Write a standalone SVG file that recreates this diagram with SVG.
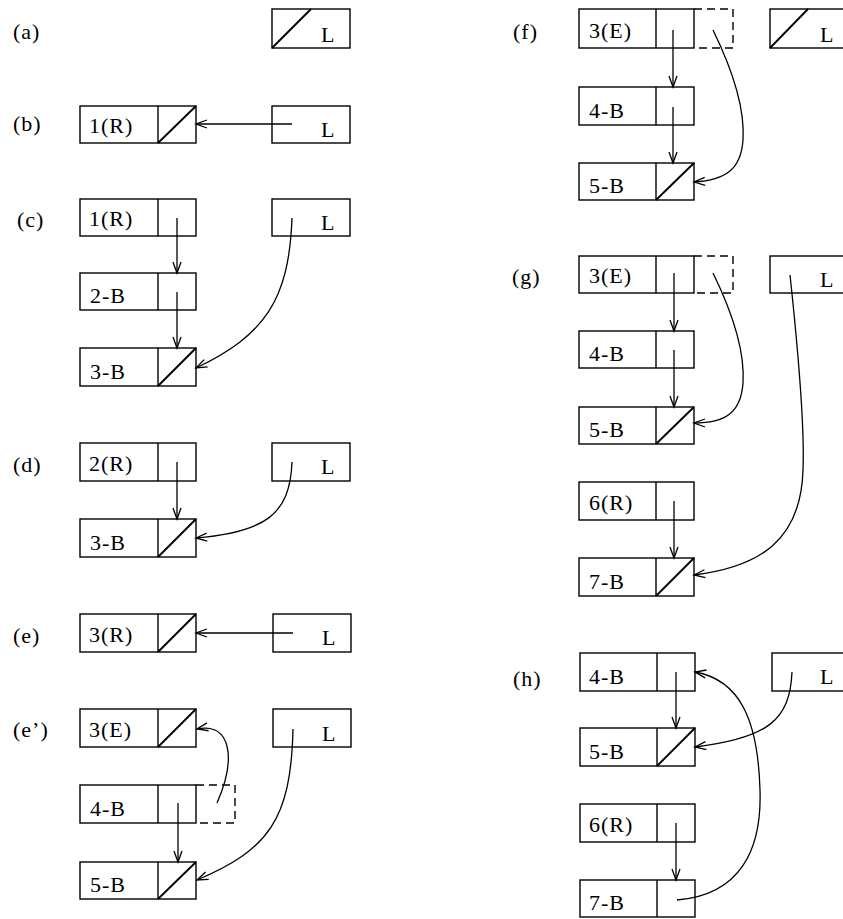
<svg xmlns="http://www.w3.org/2000/svg" width="843" height="919" viewBox="0 0 843 919">
<defs>
<marker id="ah" markerUnits="userSpaceOnUse" markerWidth="12" markerHeight="10" refX="11" refY="4.5" orient="auto" overflow="visible">
<path d="M0,0.5 L11,4.5 L0,8.5" fill="none" stroke="#000" stroke-width="1.3"/>
</marker>
</defs>
<style>
.b{fill:#fff;stroke:#000;stroke-width:1.4}
.d{stroke:#000;stroke-width:1.4}
.g{stroke:#000;stroke-width:1.9}
.ds{fill:none;stroke:#000;stroke-width:1.4;stroke-dasharray:8 5}
.t{font-family:"Liberation Serif","Times New Roman",serif;font-size:22px;letter-spacing:1px;fill:#000}
.c{fill:none;stroke:#000;stroke-width:1.3;marker-end:url(#ah)}
</style>
<rect width="843" height="919" fill="#fff"/>

<g id="labels">
<text class="t" x="13" y="39">(a)</text>
<text class="t" x="13" y="131">(b)</text>
<text class="t" x="17" y="227">(c)</text>
<text class="t" x="13" y="472">(d)</text>
<text class="t" x="13" y="643">(e)</text>
<text class="t" x="13" y="737">(e’)</text>
<text class="t" x="513" y="39">(f)</text>
<text class="t" x="512" y="284">(g)</text>
<text class="t" x="513" y="686">(h)</text>
</g>

<!-- (a) -->
<g id="a-L"><rect class="b" x="272" y="9" width="78" height="39"/><line class="g" x1="272" y1="48" x2="311" y2="9"/><text class="t" x="321" y="42">L</text></g>

<!-- (b) -->
<g id="b-1R"><rect class="b" x="80" y="106" width="116" height="37"/><line class="d" x1="158" y1="106" x2="158" y2="143"/><line class="g" x1="158" y1="143" x2="196" y2="106"/><text class="t" x="89" y="133">1(R)</text></g>
<g id="b-L"><rect class="b" x="272" y="106" width="78" height="37"/><text class="t" x="321" y="137">L</text></g>

<!-- (c) -->
<g id="c-1R"><rect class="b" x="80" y="199" width="116" height="37"/><line class="d" x1="158" y1="199" x2="158" y2="236"/><text class="t" x="89" y="226">1(R)</text></g>
<g id="c-2B"><rect class="b" x="80" y="273" width="116" height="37"/><line class="d" x1="158" y1="273" x2="158" y2="310"/><text class="t" x="90" y="303">2-B</text></g>
<g id="c-3B"><rect class="b" x="80" y="348" width="116" height="38"/><line class="d" x1="158" y1="348" x2="158" y2="386"/><line class="g" x1="158" y1="386" x2="196" y2="348"/><text class="t" x="90" y="379">3-B</text></g>
<g id="c-L"><rect class="b" x="272" y="199" width="78" height="37"/><text class="t" x="321" y="230">L</text></g>

<!-- (d) -->
<g id="d-2R"><rect class="b" x="80" y="443" width="116" height="38"/><line class="d" x1="158" y1="443" x2="158" y2="481"/><text class="t" x="89" y="471">2(R)</text></g>
<g id="d-3B"><rect class="b" x="80" y="519" width="116" height="38"/><line class="d" x1="158" y1="519" x2="158" y2="557"/><line class="g" x1="158" y1="557" x2="196" y2="519"/><text class="t" x="90" y="550">3-B</text></g>
<g id="d-L"><rect class="b" x="272" y="443" width="78" height="38"/><text class="t" x="321" y="474">L</text></g>

<!-- (e) -->
<g id="e-3R"><rect class="b" x="80" y="614" width="116" height="38"/><line class="d" x1="158" y1="614" x2="158" y2="652"/><line class="g" x1="158" y1="652" x2="196" y2="614"/><text class="t" x="89" y="642">3(R)</text></g>
<g id="e-L"><rect class="b" x="273" y="614" width="78" height="38"/><text class="t" x="322" y="645">L</text></g>

<!-- (e') -->
<g id="e2-3E"><rect class="b" x="80" y="709" width="116" height="38"/><line class="d" x1="158" y1="709" x2="158" y2="747"/><line class="g" x1="158" y1="747" x2="196" y2="709"/><text class="t" x="89" y="737">3(E)</text></g>
<g id="e2-4B"><rect class="b" x="80" y="785" width="116" height="38"/><line class="d" x1="158" y1="785" x2="158" y2="823"/><path class="ds" d="M196,785 H235 V823 H196"/><text class="t" x="90" y="816">4-B</text></g>
<g id="e2-5B"><rect class="b" x="80" y="862" width="116" height="37"/><line class="d" x1="158" y1="862" x2="158" y2="899"/><line class="g" x1="158" y1="899" x2="196" y2="862"/><text class="t" x="90" y="892">5-B</text></g>
<g id="e2-L"><rect class="b" x="273" y="709" width="78" height="38"/><text class="t" x="322" y="741">L</text></g>

<!-- (f) -->
<g id="f-3E"><rect class="b" x="579" y="9" width="115" height="39"/><line class="d" x1="656" y1="9" x2="656" y2="48"/><path class="ds" d="M694,9 H733 V48 H694"/><text class="t" x="589" y="38">3(E)</text></g>
<g id="f-4B"><rect class="b" x="579" y="87" width="115" height="38"/><line class="d" x1="656" y1="87" x2="656" y2="125"/><text class="t" x="589" y="118">4-B</text></g>
<g id="f-5B"><rect class="b" x="579" y="163" width="115" height="37"/><line class="d" x1="656" y1="163" x2="656" y2="200"/><line class="g" x1="656" y1="200" x2="694" y2="163"/><text class="t" x="589" y="193">5-B</text></g>
<g id="f-L"><rect class="b" x="770" y="9" width="80" height="39"/><line class="g" x1="770" y1="48" x2="808" y2="9"/><text class="t" x="820" y="42">L</text></g>

<!-- (g) -->
<g id="g-3E"><rect class="b" x="579" y="256" width="115" height="37"/><line class="d" x1="656" y1="256" x2="656" y2="293"/><path class="ds" d="M694,256 H733 V293 H694"/><text class="t" x="589" y="283">3(E)</text></g>
<g id="g-4B"><rect class="b" x="579" y="331" width="115" height="37"/><line class="d" x1="656" y1="331" x2="656" y2="368"/><text class="t" x="589" y="361">4-B</text></g>
<g id="g-5B"><rect class="b" x="579" y="407" width="115" height="37"/><line class="d" x1="656" y1="407" x2="656" y2="444"/><line class="g" x1="656" y1="444" x2="694" y2="407"/><text class="t" x="589" y="437">5-B</text></g>
<g id="g-6R"><rect class="b" x="579" y="482" width="115" height="38"/><line class="d" x1="656" y1="482" x2="656" y2="520"/><text class="t" x="589" y="510">6(R)</text></g>
<g id="g-7B"><rect class="b" x="579" y="558" width="115" height="38"/><line class="d" x1="656" y1="558" x2="656" y2="596"/><line class="g" x1="656" y1="596" x2="694" y2="558"/><text class="t" x="589" y="589">7-B</text></g>
<g id="g-L"><rect class="b" x="770" y="256" width="80" height="37"/><text class="t" x="820" y="287">L</text></g>

<!-- (h) -->
<g id="h-4B"><rect class="b" x="580" y="653" width="115" height="38"/><line class="d" x1="657" y1="653" x2="657" y2="691"/><text class="t" x="589" y="684">4-B</text></g>
<g id="h-5B"><rect class="b" x="580" y="728" width="115" height="38"/><line class="d" x1="657" y1="728" x2="657" y2="766"/><line class="g" x1="657" y1="766" x2="695" y2="728"/><text class="t" x="589" y="759">5-B</text></g>
<g id="h-6R"><rect class="b" x="580" y="804" width="115" height="38"/><line class="d" x1="657" y1="804" x2="657" y2="842"/><text class="t" x="589" y="832">6(R)</text></g>
<g id="h-7B"><rect class="b" x="580" y="880" width="115" height="37"/><line class="d" x1="657" y1="880" x2="657" y2="917"/><text class="t" x="589" y="910">7-B</text></g>
<g id="h-L"><rect class="b" x="772" y="653" width="80" height="38"/><text class="t" x="820" y="684">L</text></g>

<g id="connectors">
<path class="c" d="M292,124 H196"/>
<path class="c" d="M177,218 V273"/>
<path class="c" d="M177,292 V348"/>
<path class="c" d="M292,218 C289,300 265,335 196,368"/>
<path class="c" d="M177,462 V519"/>
<path class="c" d="M292,462 C290,515 265,532 196,538"/>
<path class="c" d="M293,633 H196"/>
<path class="c" d="M178,803 V862"/>
<path class="c" d="M217,803 C236,760 232,722 197,729"/>
<path class="c" d="M293,729 C291,820 268,850 197,880"/>
<path class="c" d="M673,30 V87"/>
<path class="c" d="M673,107 V163"/>
<path class="c" d="M713,30 C735,75 745,110 743,140 C741,170 725,180 694,182"/>
<path class="c" d="M674,273 V331"/>
<path class="c" d="M674,350 V407"/>
<path class="c" d="M713,273 C735,318 745,353 743,383 C741,413 725,423 694,423"/>
<path class="c" d="M674,501 V558"/>
<path class="c" d="M790,275 C797,340 805,420 803,470 C801,540 760,567 694,575"/>
<path class="c" d="M676,672 V728"/>
<path class="c" d="M676,823 V880"/>
<path class="c" d="M792,672 C790,720 768,738 695,747"/>
<path class="c" d="M677,900 C740,895 762,850 760,790 C758,720 740,680 695,672"/>
</g>
</svg>
